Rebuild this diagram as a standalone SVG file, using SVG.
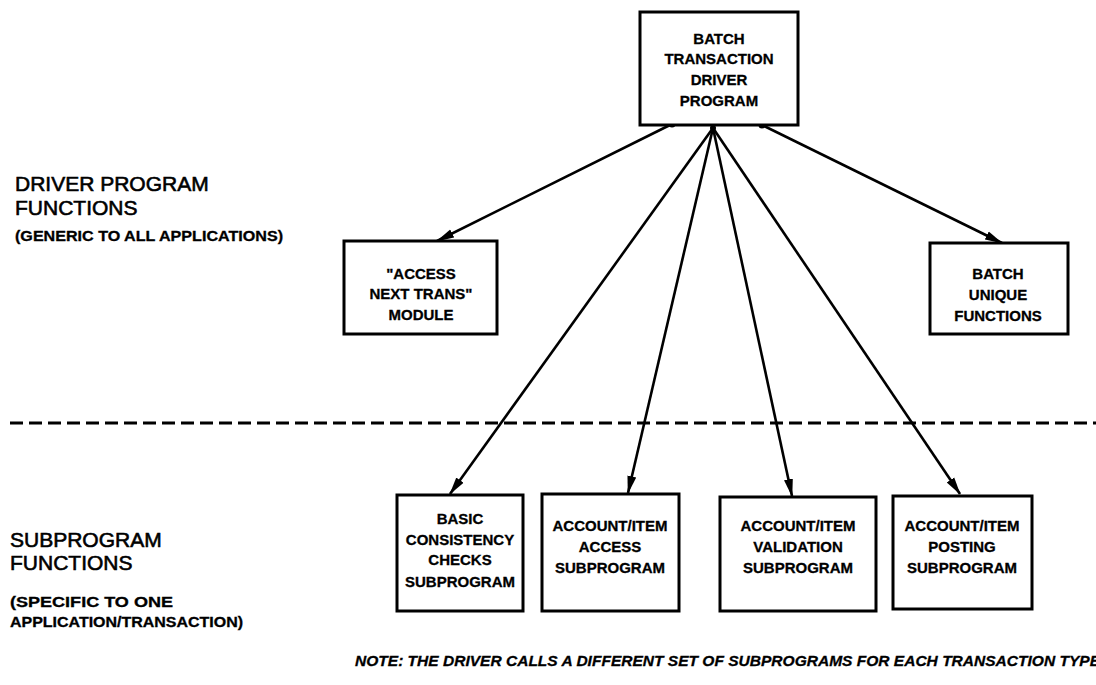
<svg xmlns="http://www.w3.org/2000/svg" width="1096" height="685" viewBox="0 0 1096 685">
  <defs>
    <marker id="arrow" viewBox="0 0 18 10" refX="17" refY="5" markerWidth="18" markerHeight="10" markerUnits="userSpaceOnUse" orient="auto">
      <path d="M0,0.5 L18,5 L0,9.5 Z" fill="#000"/>
    </marker>
    <style>
      .box { fill: #fff; stroke: #000; stroke-width: 3; }
      .bt { font-family: "Liberation Sans", Arial, sans-serif; font-weight: bold; font-size: 15px; text-anchor: middle; fill: #000; stroke: #000; stroke-width: 0.3; }
      .lbl { font-family: "Liberation Sans", Arial, sans-serif; font-size: 21px; fill: #000; stroke: #000; stroke-width: 0.6; }
      .sub { font-family: "Liberation Sans", Arial, sans-serif; font-weight: bold; font-size: 14px; fill: #000; stroke: #000; stroke-width: 0.3; }
      .note { font-family: "Liberation Sans", Arial, sans-serif; font-weight: bold; font-style: italic; font-size: 15px; fill: #000; stroke: #000; stroke-width: 0.3; }
      .conn { stroke: #000; stroke-width: 2.6; fill: none; marker-end: url(#arrow); }
      .divider { stroke: #000; stroke-width: 3; stroke-dasharray: 13 6; }
    </style>
  </defs>
  <rect width="1096" height="685" fill="#fff"/>

  <!-- level labels -->
  <g id="driver-label">
    <text class="lbl" x="15" y="191">DRIVER PROGRAM</text>
    <text class="lbl" x="15" y="215">FUNCTIONS</text>
    <text class="sub" x="15" y="241" textLength="268" lengthAdjust="spacingAndGlyphs">(GENERIC TO ALL APPLICATIONS)</text>
  </g>
  <g id="subprogram-label">
    <text class="lbl" x="10" y="547">SUBPROGRAM</text>
    <text class="lbl" x="10" y="570">FUNCTIONS</text>
    <text class="sub" x="10" y="607" textLength="163" lengthAdjust="spacingAndGlyphs">(SPECIFIC TO ONE</text>
    <text class="sub" x="10" y="627" textLength="233" lengthAdjust="spacingAndGlyphs">APPLICATION/TRANSACTION)</text>
  </g>

  <!-- boundary between driver and subprogram levels -->
  <line class="divider" x1="10" y1="423" x2="1096" y2="423"/>

  <!-- connectors -->
  <g id="connectors">
    <path class="conn" d="M672,124 L437,241"/>
    <path class="conn" d="M713,128 L450,494"/>
    <path class="conn" d="M713,128 L628,493"/>
    <path class="conn" d="M713,128 L792,496"/>
    <path class="conn" d="M713,128 L960,494"/>
    <path class="conn" d="M762,125 L1002,243"/>
    <circle cx="672" cy="124" r="3.5" fill="#000"/>
    <circle cx="762" cy="125" r="3.5" fill="#000"/>
    <circle cx="713" cy="128" r="3" fill="#000"/>
  </g>

  <g id="batch-driver">
    <rect class="box" x="640" y="12" width="158" height="113"/>
    <text class="bt" x="719" y="44">BATCH</text>
    <text class="bt" x="719" y="64">TRANSACTION</text>
    <text class="bt" x="719" y="85">DRIVER</text>
    <text class="bt" x="719" y="106">PROGRAM</text>
  </g>

  <g id="access-next-trans">
    <rect class="box" x="344" y="241" width="153" height="93"/>
    <text class="bt" x="421" y="279">"ACCESS</text>
    <text class="bt" x="421" y="299">NEXT TRANS"</text>
    <text class="bt" x="421" y="320">MODULE</text>
  </g>

  <g id="batch-unique">
    <rect class="box" x="930" y="243" width="138" height="91"/>
    <text class="bt" x="998" y="279">BATCH</text>
    <text class="bt" x="998" y="300">UNIQUE</text>
    <text class="bt" x="998" y="321">FUNCTIONS</text>
  </g>

  <g id="basic-consistency">
    <rect class="box" x="397" y="495" width="126" height="116"/>
    <text class="bt" x="460" y="524">BASIC</text>
    <text class="bt" x="460" y="545">CONSISTENCY</text>
    <text class="bt" x="460" y="565">CHECKS</text>
    <text class="bt" x="460" y="587">SUBPROGRAM</text>
  </g>

  <g id="account-access">
    <rect class="box" x="542" y="494" width="137" height="117"/>
    <text class="bt" x="610" y="531">ACCOUNT/ITEM</text>
    <text class="bt" x="610" y="552">ACCESS</text>
    <text class="bt" x="610" y="573">SUBPROGRAM</text>
  </g>

  <g id="account-validation">
    <rect class="box" x="720" y="497" width="156" height="114"/>
    <text class="bt" x="798" y="531">ACCOUNT/ITEM</text>
    <text class="bt" x="798" y="552">VALIDATION</text>
    <text class="bt" x="798" y="573">SUBPROGRAM</text>
  </g>

  <g id="account-posting">
    <rect class="box" x="893" y="496" width="139" height="113"/>
    <text class="bt" x="962" y="531">ACCOUNT/ITEM</text>
    <text class="bt" x="962" y="552">POSTING</text>
    <text class="bt" x="962" y="573">SUBPROGRAM</text>
  </g>

  <g id="note">
    <text class="note" x="355" y="666" textLength="745" lengthAdjust="spacingAndGlyphs">NOTE:  THE DRIVER CALLS A DIFFERENT SET OF SUBPROGRAMS FOR EACH TRANSACTION TYPE</text>
  </g>
</svg>
